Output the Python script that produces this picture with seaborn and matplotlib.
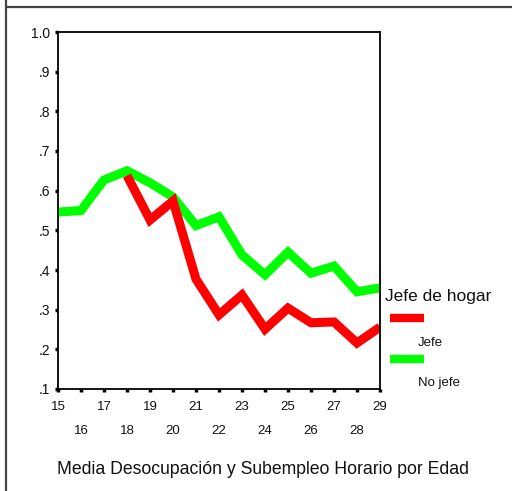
import matplotlib
matplotlib.use("Agg")
import matplotlib.pyplot as plt
from matplotlib.lines import Line2D
import seaborn as sns
import pandas as pd

# Mean unemployment + hourly underemployment rate by age
ages_no_jefe = [15, 16, 17, 18, 19, 20, 21, 22, 23, 24, 25, 26, 27, 28, 29]
no_jefe = [0.546, 0.550, 0.627, 0.650, 0.620, 0.584, 0.512, 0.534,
           0.438, 0.388, 0.445, 0.392, 0.410, 0.345, 0.355]
ages_jefe = [18, 19, 20, 21, 22, 23, 24, 25, 26, 27, 28, 29]
jefe = [0.638, 0.526, 0.574, 0.377, 0.287, 0.337, 0.251, 0.304,
        0.267, 0.269, 0.216, 0.256]

group_labels = ["Jefe", "No jefe"]
group_colors = ["#ff0000", "#00ff00"]
y_ticks = [0.1, 0.2, 0.3, 0.4, 0.5, 0.6, 0.7, 0.8, 0.9, 1.0]
y_tick_labels = [".1", ".2", ".3", ".4", ".5", ".6", ".7", ".8", ".9", "1.0"]
legend_title = "Jefe de hogar"
chart_title = "Media Desocupación y Subempleo Horario por Edad"

df = pd.concat([
    pd.DataFrame({"Edad": ages_jefe, "Media": jefe, "Jefe de hogar": group_labels[0]}),
    pd.DataFrame({"Edad": ages_no_jefe, "Media": no_jefe, "Jefe de hogar": group_labels[1]}),
], ignore_index=True)

sns.set_style("white")
plt.rcParams["font.family"] = ["Liberation Sans", "DejaVu Sans"]

fig = plt.figure(figsize=(5.12, 4.91), dpi=100)
ax = fig.add_axes([58 / 512, 1 - 389 / 491, 322 / 512, 357 / 491])

sns.lineplot(data=df, x="Edad", y="Media", hue="Jefe de hogar",
             hue_order=group_labels[::-1], palette=group_colors[::-1],
             linewidth=6.5, legend=False, ax=ax, sort=True)
for ln in ax.lines:
    ln.set_solid_joinstyle("miter")
    ln.set_solid_capstyle("butt")

ax.set_xlim(15, 29)
ax.set_ylim(0.1, 1.0)
ax.set_xlabel("")
ax.set_ylabel("")

# y axis
ax.set_yticks(y_ticks)
ax.set_yticklabels(y_tick_labels, fontsize=10, color="#111111")
ax.tick_params(axis="y", which="major", left=True, length=2.5, width=2.5,
               pad=3, color="black", direction="out")

# x axis: odd ages on the first row, even ages on the second row
odd_ages = [a for a in ages_no_jefe if a % 2 == 1]
even_ages = [a for a in ages_no_jefe if a % 2 == 0]
ax.set_xticks(odd_ages)
ax.set_xticklabels([str(a) for a in odd_ages], fontsize=9.5, color="#111111")
ax.set_xticks(even_ages, minor=True)
ax.set_xticklabels([str(a) for a in even_ages], minor=True, fontsize=9.5, color="#111111")
ax.tick_params(axis="x", which="major", bottom=True, length=2, width=2.5,
               pad=7, color="black", direction="out")
ax.tick_params(axis="x", which="minor", bottom=True, length=2, width=2.5,
               pad=24, color="black", direction="out")

for s in ax.spines.values():
    s.set_visible(True)
    s.set_color("black")
    s.set_linewidth(1.3)

# legend drawn beside the plot
fig.text(385 / 512, 1 - 297 / 491, legend_title, fontsize=12.5,
         ha="left", va="center", color="#111111")
for (lbl, col, ysw, ytx) in [(group_labels[0], group_colors[0], 318, 343),
                             (group_labels[1], group_colors[1], 359, 383)]:
    fig.add_artist(Line2D([390 / 512, 424 / 512], [1 - ysw / 491, 1 - ysw / 491],
                          color=col, linewidth=6.0, solid_capstyle="butt",
                          transform=fig.transFigure))
    fig.text(418 / 512, 1 - ytx / 491, lbl, fontsize=9.5, ha="left",
             va="center", color="#111111")

# chart title at the bottom
fig.text(263 / 512, 1 - 470 / 491, chart_title, fontsize=12.7,
         ha="center", va="center", color="#111111")

# page frame lines
fig.add_artist(Line2D([6 / 512, 1.0], [1 - 7 / 491, 1 - 7 / 491], color="#444444",
                      linewidth=1.6, transform=fig.transFigure))
fig.add_artist(Line2D([6 / 512, 6 / 512], [0.0, 1.0], color="#444444",
                      linewidth=1.6, transform=fig.transFigure))

fig.savefig("out.png", dpi=100)
